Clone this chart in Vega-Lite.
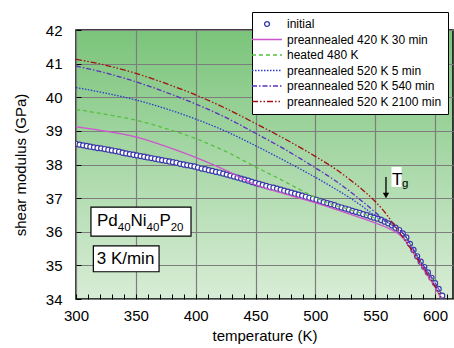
{
  "$schema": "https://vega.github.io/schema/vega-lite/v6.json",
  "width": 377,
  "height": 269,
  "autosize": {"type": "none"},
  "padding": {"left": 76, "top": 30, "right": 1, "bottom": 49},
  "background": "white",
  "config": {
    "font": "Liberation Sans",
    "view": {
      "stroke": "black",
      "strokeWidth": 1.5,
      "fill": {"gradient": "linear", "x1": 0, "y1": 0, "x2": 0, "y2": 1,
        "stops": [{"offset": 0, "color": "#7bc47b"}, {"offset": 1, "color": "#d8edd6"}]}
    },
    "axis": {
      "labelFont": "Liberation Sans", "titleFont": "Liberation Sans",
      "labelFontSize": 15, "titleFontSize": 15, "titleFontWeight": "normal",
      "labelColor": "black", "titleColor": "black",
      "domain": false, "tickColor": "black", "tickSize": -5, "tickWidth": 1,
      "gridColor": "#7d7d7d", "gridWidth": 1.2, "tickCount": 200,
      "labelOverlap": false, "labelFlush": false
    }
  },
  "datasets": {
    "circles": [
      {"s":"initial","T":300,"G":38.61},{"s":"initial","T":303,"G":38.59},{"s":"initial","T":306,"G":38.57},{"s":"initial","T":309,"G":38.55},
      {"s":"initial","T":312,"G":38.53},{"s":"initial","T":315,"G":38.51},{"s":"initial","T":318,"G":38.49},{"s":"initial","T":321,"G":38.48},
      {"s":"initial","T":324,"G":38.46},{"s":"initial","T":327,"G":38.44},{"s":"initial","T":330,"G":38.42},{"s":"initial","T":333,"G":38.40},
      {"s":"initial","T":336,"G":38.38},{"s":"initial","T":339,"G":38.35},{"s":"initial","T":342,"G":38.33},{"s":"initial","T":345,"G":38.31},
      {"s":"initial","T":348,"G":38.29},{"s":"initial","T":351,"G":38.27},{"s":"initial","T":354,"G":38.25},{"s":"initial","T":357,"G":38.23},
      {"s":"initial","T":360,"G":38.21},{"s":"initial","T":363,"G":38.19},{"s":"initial","T":366,"G":38.17},{"s":"initial","T":369,"G":38.15},
      {"s":"initial","T":372,"G":38.13},{"s":"initial","T":375,"G":38.11},{"s":"initial","T":378,"G":38.09},{"s":"initial","T":381,"G":38.07},
      {"s":"initial","T":384,"G":38.05},{"s":"initial","T":387,"G":38.02},{"s":"initial","T":390,"G":38.00},{"s":"initial","T":393,"G":37.98},
      {"s":"initial","T":396,"G":37.96},{"s":"initial","T":399,"G":37.94},{"s":"initial","T":402,"G":37.91},{"s":"initial","T":405,"G":37.88},
      {"s":"initial","T":408,"G":37.86},{"s":"initial","T":411,"G":37.83},{"s":"initial","T":414,"G":37.81},{"s":"initial","T":417,"G":37.78},
      {"s":"initial","T":420,"G":37.76},{"s":"initial","T":423,"G":37.73},{"s":"initial","T":426,"G":37.70},{"s":"initial","T":429,"G":37.67},
      {"s":"initial","T":432,"G":37.64},{"s":"initial","T":435,"G":37.61},{"s":"initial","T":438,"G":37.58},{"s":"initial","T":441,"G":37.55},
      {"s":"initial","T":444,"G":37.52},{"s":"initial","T":447,"G":37.48},{"s":"initial","T":450,"G":37.45},{"s":"initial","T":453,"G":37.42},
      {"s":"initial","T":456,"G":37.39},{"s":"initial","T":459,"G":37.36},{"s":"initial","T":462,"G":37.33},{"s":"initial","T":465,"G":37.31},
      {"s":"initial","T":468,"G":37.28},{"s":"initial","T":471,"G":37.25},{"s":"initial","T":474,"G":37.22},{"s":"initial","T":477,"G":37.19},
      {"s":"initial","T":480,"G":37.16},{"s":"initial","T":483,"G":37.13},{"s":"initial","T":486,"G":37.10},{"s":"initial","T":489,"G":37.07},
      {"s":"initial","T":492,"G":37.04},{"s":"initial","T":495,"G":37.01},{"s":"initial","T":498,"G":36.98},{"s":"initial","T":501,"G":36.95},
      {"s":"initial","T":504,"G":36.92},{"s":"initial","T":507,"G":36.88},{"s":"initial","T":510,"G":36.85},{"s":"initial","T":513,"G":36.82},
      {"s":"initial","T":516,"G":36.79},{"s":"initial","T":519,"G":36.75},{"s":"initial","T":522,"G":36.72},{"s":"initial","T":525,"G":36.69},
      {"s":"initial","T":528,"G":36.66},{"s":"initial","T":531,"G":36.62},{"s":"initial","T":534,"G":36.59},{"s":"initial","T":537,"G":36.56},
      {"s":"initial","T":540,"G":36.52},{"s":"initial","T":543,"G":36.49},{"s":"initial","T":546,"G":36.45},{"s":"initial","T":549,"G":36.42},
      {"s":"initial","T":552,"G":36.39},{"s":"initial","T":555,"G":36.35},{"s":"initial","T":558,"G":36.30},{"s":"initial","T":561,"G":36.25},
      {"s":"initial","T":564,"G":36.19},{"s":"initial","T":567,"G":36.12},{"s":"initial","T":570,"G":36.05},{"s":"initial","T":573,"G":35.95},
      {"s":"initial","T":576,"G":35.83},{"s":"initial","T":579,"G":35.64},{"s":"initial","T":582,"G":35.46},{"s":"initial","T":585,"G":35.27},
      {"s":"initial","T":588,"G":35.11},{"s":"initial","T":591,"G":34.95},{"s":"initial","T":594,"G":34.79},{"s":"initial","T":597,"G":34.63},
      {"s":"initial","T":600,"G":34.47},{"s":"initial","T":603,"G":34.30},{"s":"initial","T":606,"G":34.10}
    ],
    "lines": [
      {"s":"preannealed 420 K 30 min","T":300,"G":39.12},{"s":"preannealed 420 K 30 min","T":325,"G":38.99},{"s":"preannealed 420 K 30 min","T":350,"G":38.82},
      {"s":"preannealed 420 K 30 min","T":375,"G":38.54},{"s":"preannealed 420 K 30 min","T":400,"G":38.21},{"s":"preannealed 420 K 30 min","T":425,"G":37.83},
      {"s":"preannealed 420 K 30 min","T":450,"G":37.40},{"s":"preannealed 420 K 30 min","T":475,"G":37.12},{"s":"preannealed 420 K 30 min","T":500,"G":36.86},
      {"s":"preannealed 420 K 30 min","T":525,"G":36.57},{"s":"preannealed 420 K 30 min","T":550,"G":36.26},{"s":"preannealed 420 K 30 min","T":560,"G":36.12},
      {"s":"preannealed 420 K 30 min","T":565,"G":36.03},{"s":"preannealed 420 K 30 min","T":570,"G":35.92},{"s":"preannealed 420 K 30 min","T":575,"G":35.74},
      {"s":"preannealed 420 K 30 min","T":580,"G":35.48},{"s":"preannealed 420 K 30 min","T":585,"G":35.19},{"s":"preannealed 420 K 30 min","T":590,"G":34.91},
      {"s":"preannealed 420 K 30 min","T":595,"G":34.63},{"s":"preannealed 420 K 30 min","T":600,"G":34.35},{"s":"preannealed 420 K 30 min","T":605,"G":34.02},

      {"s":"heated 480 K","T":300,"G":39.64},{"s":"heated 480 K","T":325,"G":39.49},{"s":"heated 480 K","T":350,"G":39.32},{"s":"heated 480 K","T":375,"G":39.07},
      {"s":"heated 480 K","T":400,"G":38.77},{"s":"heated 480 K","T":425,"G":38.39},{"s":"heated 480 K","T":450,"G":37.93},{"s":"heated 480 K","T":475,"G":37.48},
      {"s":"heated 480 K","T":490,"G":37.20},{"s":"heated 480 K","T":500,"G":37.02},{"s":"heated 480 K","T":510,"G":36.86},{"s":"heated 480 K","T":525,"G":36.70},
      {"s":"heated 480 K","T":540,"G":36.53},{"s":"heated 480 K","T":550,"G":36.41},{"s":"heated 480 K","T":560,"G":36.27},{"s":"heated 480 K","T":565,"G":36.18},
      {"s":"heated 480 K","T":570,"G":36.06},{"s":"heated 480 K","T":575,"G":35.88},{"s":"heated 480 K","T":580,"G":35.59},{"s":"heated 480 K","T":585,"G":35.28},
      {"s":"heated 480 K","T":590,"G":35.01},{"s":"heated 480 K","T":595,"G":34.75},{"s":"heated 480 K","T":600,"G":34.48},{"s":"heated 480 K","T":605,"G":34.17},

      {"s":"preannealed 520 K 5 min","T":300,"G":40.29},{"s":"preannealed 520 K 5 min","T":325,"G":40.12},{"s":"preannealed 520 K 5 min","T":350,"G":39.92},
      {"s":"preannealed 520 K 5 min","T":375,"G":39.66},{"s":"preannealed 520 K 5 min","T":400,"G":39.35},{"s":"preannealed 520 K 5 min","T":425,"G":38.99},
      {"s":"preannealed 520 K 5 min","T":450,"G":38.56},{"s":"preannealed 520 K 5 min","T":475,"G":38.10},{"s":"preannealed 520 K 5 min","T":500,"G":37.62},
      {"s":"preannealed 520 K 5 min","T":515,"G":37.31},{"s":"preannealed 520 K 5 min","T":530,"G":36.98},{"s":"preannealed 520 K 5 min","T":540,"G":36.74},
      {"s":"preannealed 520 K 5 min","T":548,"G":36.53},{"s":"preannealed 520 K 5 min","T":555,"G":36.38},{"s":"preannealed 520 K 5 min","T":560,"G":36.28},
      {"s":"preannealed 520 K 5 min","T":565,"G":36.18},{"s":"preannealed 520 K 5 min","T":570,"G":36.06},{"s":"preannealed 520 K 5 min","T":575,"G":35.88},
      {"s":"preannealed 520 K 5 min","T":580,"G":35.59},{"s":"preannealed 520 K 5 min","T":585,"G":35.28},{"s":"preannealed 520 K 5 min","T":590,"G":35.01},
      {"s":"preannealed 520 K 5 min","T":595,"G":34.75},{"s":"preannealed 520 K 5 min","T":600,"G":34.48},{"s":"preannealed 520 K 5 min","T":605,"G":34.17},

      {"s":"preannealed 520 K 540 min","T":300,"G":40.93},{"s":"preannealed 520 K 540 min","T":325,"G":40.72},{"s":"preannealed 520 K 540 min","T":350,"G":40.46},
      {"s":"preannealed 520 K 540 min","T":375,"G":40.15},{"s":"preannealed 520 K 540 min","T":400,"G":39.80},{"s":"preannealed 520 K 540 min","T":425,"G":39.40},
      {"s":"preannealed 520 K 540 min","T":450,"G":38.93},{"s":"preannealed 520 K 540 min","T":475,"G":38.44},{"s":"preannealed 520 K 540 min","T":500,"G":37.90},
      {"s":"preannealed 520 K 540 min","T":515,"G":37.56},{"s":"preannealed 520 K 540 min","T":530,"G":37.17},{"s":"preannealed 520 K 540 min","T":540,"G":36.88},
      {"s":"preannealed 520 K 540 min","T":550,"G":36.58},{"s":"preannealed 520 K 540 min","T":556,"G":36.40},{"s":"preannealed 520 K 540 min","T":560,"G":36.29},
      {"s":"preannealed 520 K 540 min","T":565,"G":36.18},{"s":"preannealed 520 K 540 min","T":570,"G":36.06},{"s":"preannealed 520 K 540 min","T":575,"G":35.88},
      {"s":"preannealed 520 K 540 min","T":580,"G":35.59},{"s":"preannealed 520 K 540 min","T":585,"G":35.28},{"s":"preannealed 520 K 540 min","T":590,"G":35.01},
      {"s":"preannealed 520 K 540 min","T":595,"G":34.75},{"s":"preannealed 520 K 540 min","T":600,"G":34.48},{"s":"preannealed 520 K 540 min","T":605,"G":34.17},

      {"s":"preannealed 520 K 2100 min","T":300,"G":41.13},{"s":"preannealed 520 K 2100 min","T":325,"G":40.95},{"s":"preannealed 520 K 2100 min","T":350,"G":40.71},
      {"s":"preannealed 520 K 2100 min","T":375,"G":40.41},{"s":"preannealed 520 K 2100 min","T":400,"G":40.07},{"s":"preannealed 520 K 2100 min","T":425,"G":39.67},
      {"s":"preannealed 520 K 2100 min","T":450,"G":39.22},{"s":"preannealed 520 K 2100 min","T":475,"G":38.75},{"s":"preannealed 520 K 2100 min","T":500,"G":38.24},
      {"s":"preannealed 520 K 2100 min","T":515,"G":37.91},{"s":"preannealed 520 K 2100 min","T":530,"G":37.52},{"s":"preannealed 520 K 2100 min","T":540,"G":37.23},
      {"s":"preannealed 520 K 2100 min","T":550,"G":36.90},{"s":"preannealed 520 K 2100 min","T":555,"G":36.71},{"s":"preannealed 520 K 2100 min","T":560,"G":36.49},
      {"s":"preannealed 520 K 2100 min","T":565,"G":36.24},{"s":"preannealed 520 K 2100 min","T":570,"G":35.99},{"s":"preannealed 520 K 2100 min","T":575,"G":35.74},
      {"s":"preannealed 520 K 2100 min","T":580,"G":35.48},{"s":"preannealed 520 K 2100 min","T":585,"G":35.21},{"s":"preannealed 520 K 2100 min","T":590,"G":34.94},
      {"s":"preannealed 520 K 2100 min","T":595,"G":34.67},{"s":"preannealed 520 K 2100 min","T":600,"G":34.38},{"s":"preannealed 520 K 2100 min","T":605,"G":34.05}
    ],
    "boxes": [
      {"T1": 312.5, "T2": 396.1, "G1": 35.87, "G2": 36.73},
      {"T1": 314.5, "T2": 369.4, "G1": 34.81, "G2": 35.58}
    ],
    "tgbg": [{"T1": 563.6, "T2": 572.0, "G1": 37.33, "G2": 37.93}],
    "bigtext": [
      {"label": "Pd", "T": 317.5, "G": 36.16},
      {"label": "Ni", "T": 345.6, "G": 36.16},
      {"label": "P", "T": 369.7, "G": 36.16},
      {"label": "3 K/min", "T": 317.3, "G": 35.03},
      {"label": "T", "T": 564.0, "G": 37.4}
    ],
    "smalltext": [
      {"label": "40", "T": 334.9, "G": 36.03},
      {"label": "40", "T": 359.0, "G": 36.03},
      {"label": "20", "T": 379.1, "G": 36.03},
      {"label": "g", "T": 572.3, "G": 37.32}
    ],
    "arrow": [{"T": 559, "G1": 37.63, "G2": 37.12}],
    "arrowhead": [{"T": 559, "G": 37.08}]
  },
  "layer": [
    {
      "data": {"name": "circles"},
      "mark": {"type": "point", "shape": "circle", "filled": false, "fill": "white", "size": 26, "strokeWidth": 1.2, "opacity": 1, "clip": true},
      "encoding": {
        "x": {"field": "T", "type": "quantitative",
          "scale": {"domain": [300, 615], "nice": false, "zero": false},
          "axis": {
            "title": "temperature (K)", "format": "d",
            "values": [300,310,320,330,340,350,360,370,380,390,400,410,420,430,440,450,460,470,480,490,500,510,520,530,540,550,560,570,580,590,600,610],
            "labelExpr": "datum.value % 50 === 0 ? datum.label : ''",
            "grid": true, "tickCount": 200,
            "gridOpacity": {"condition": {"test": "datum.value % 50 === 0", "value": 1}, "value": 0},
            "labelPadding": 14, "titlePadding": 5
          }},
        "y": {"field": "G", "type": "quantitative",
          "scale": {"domain": [34, 42], "nice": false, "zero": false},
          "axis": {
            "title": "shear modulus (GPa)", "format": "d",
            "values": [34,34.5,35,35.5,36,36.5,37,37.5,38,38.5,39,39.5,40,40.5,41,41.5,42],
            "labelExpr": "datum.value % 1 === 0 ? datum.label : ''",
            "grid": true, "tickCount": 200,
            "gridOpacity": {"condition": {"test": "datum.value % 1 === 0", "value": 1}, "value": 0},
            "labelPadding": 19, "titlePadding": 17
          }},
        "color": {"field": "s", "type": "nominal",
          "scale": {
            "domain": ["initial", "preannealed 420 K 30 min", "heated 480 K", "preannealed 520 K 5 min", "preannealed 520 K 540 min", "preannealed 520 K 2100 min"],
            "range": ["#3a3aaa", "#cc55cc", "#55c040", "#2a3ad0", "#5a30c0", "#a01010"]
          },
          "legend": {
            "title": null, "orient": "none", "legendX": 176, "legendY": -18,
            "fillColor": "white", "strokeColor": "black", "padding": 6,
            "labelFontSize": 12, "labelFont": "Liberation Sans", "labelColor": "black", "labelLimit": 300,
            "symbolSize": 36, "symbolStrokeWidth": 1.4, "symbolOffset": 3, "labelOffset": 14, "rowPadding": 3.5,
            "symbolType": {"expr": "datum.value === 'initial' ? 'M -0.8 0 A 0.8 0.8 0 1 0 0.8 0 A 0.8 0.8 0 1 0 -0.8 0 Z' : 'M -5 0 L 5 0'"},
            "symbolDash": {"expr": "datum.value === 'heated 480 K' ? [4,3] : datum.value === 'preannealed 520 K 5 min' ? [1.5,1.5] : datum.value === 'preannealed 520 K 540 min' ? [5,2,1.5,2] : datum.value === 'preannealed 520 K 2100 min' ? [6,2,1.5,2,1.5,2] : [1,0]"}
          }}
      }
    },
    {
      "data": {"name": "lines"},
      "mark": {"type": "line", "strokeWidth": 1.3, "interpolate": "monotone", "clip": true},
      "encoding": {
        "x": {"field": "T", "type": "quantitative"},
        "y": {"field": "G", "type": "quantitative"},
        "color": {"field": "s", "type": "nominal"},
        "strokeDash": {"field": "s", "type": "nominal", "legend": null,
          "scale": {
            "domain": ["preannealed 420 K 30 min", "heated 480 K", "preannealed 520 K 5 min", "preannealed 520 K 540 min", "preannealed 520 K 2100 min"],
            "range": [[1,0], [4,3], [1.5,1.5], [5,2,1.5,2], [6,2,1.5,2,1.5,2]]
          }}
      }
    },
    {
      "data": {"name": "boxes"},
      "mark": {"type": "rect", "fill": "white", "stroke": "black", "strokeWidth": 1.2},
      "encoding": {
        "x": {"field": "T1", "type": "quantitative"}, "x2": {"field": "T2"},
        "y": {"field": "G1", "type": "quantitative"}, "y2": {"field": "G2"}
      }
    },
    {
      "data": {"name": "tgbg"},
      "mark": {"type": "rect", "fill": "white"},
      "encoding": {
        "x": {"field": "T1", "type": "quantitative"}, "x2": {"field": "T2"},
        "y": {"field": "G1", "type": "quantitative"}, "y2": {"field": "G2"}
      }
    },
    {
      "data": {"name": "arrow"},
      "mark": {"type": "rule", "color": "black", "strokeWidth": 1.3},
      "encoding": {
        "x": {"field": "T", "type": "quantitative"},
        "y": {"field": "G1", "type": "quantitative"}, "y2": {"field": "G2"}
      }
    },
    {
      "data": {"name": "arrowhead"},
      "mark": {"type": "point", "shape": "triangle-down", "filled": true, "color": "black", "size": 40, "opacity": 1},
      "encoding": {
        "x": {"field": "T", "type": "quantitative"},
        "y": {"field": "G", "type": "quantitative"}
      }
    },
    {
      "data": {"name": "bigtext"},
      "mark": {"type": "text", "align": "left", "baseline": "alphabetic", "fontSize": 17, "font": "Liberation Sans", "color": "black"},
      "encoding": {
        "x": {"field": "T", "type": "quantitative"},
        "y": {"field": "G", "type": "quantitative"},
        "text": {"field": "label"}
      }
    },
    {
      "data": {"name": "smalltext"},
      "mark": {"type": "text", "align": "left", "baseline": "alphabetic", "fontSize": 11.5, "font": "Liberation Sans", "color": "black"},
      "encoding": {
        "x": {"field": "T", "type": "quantitative"},
        "y": {"field": "G", "type": "quantitative"},
        "text": {"field": "label"}
      }
    }
  ]
}
